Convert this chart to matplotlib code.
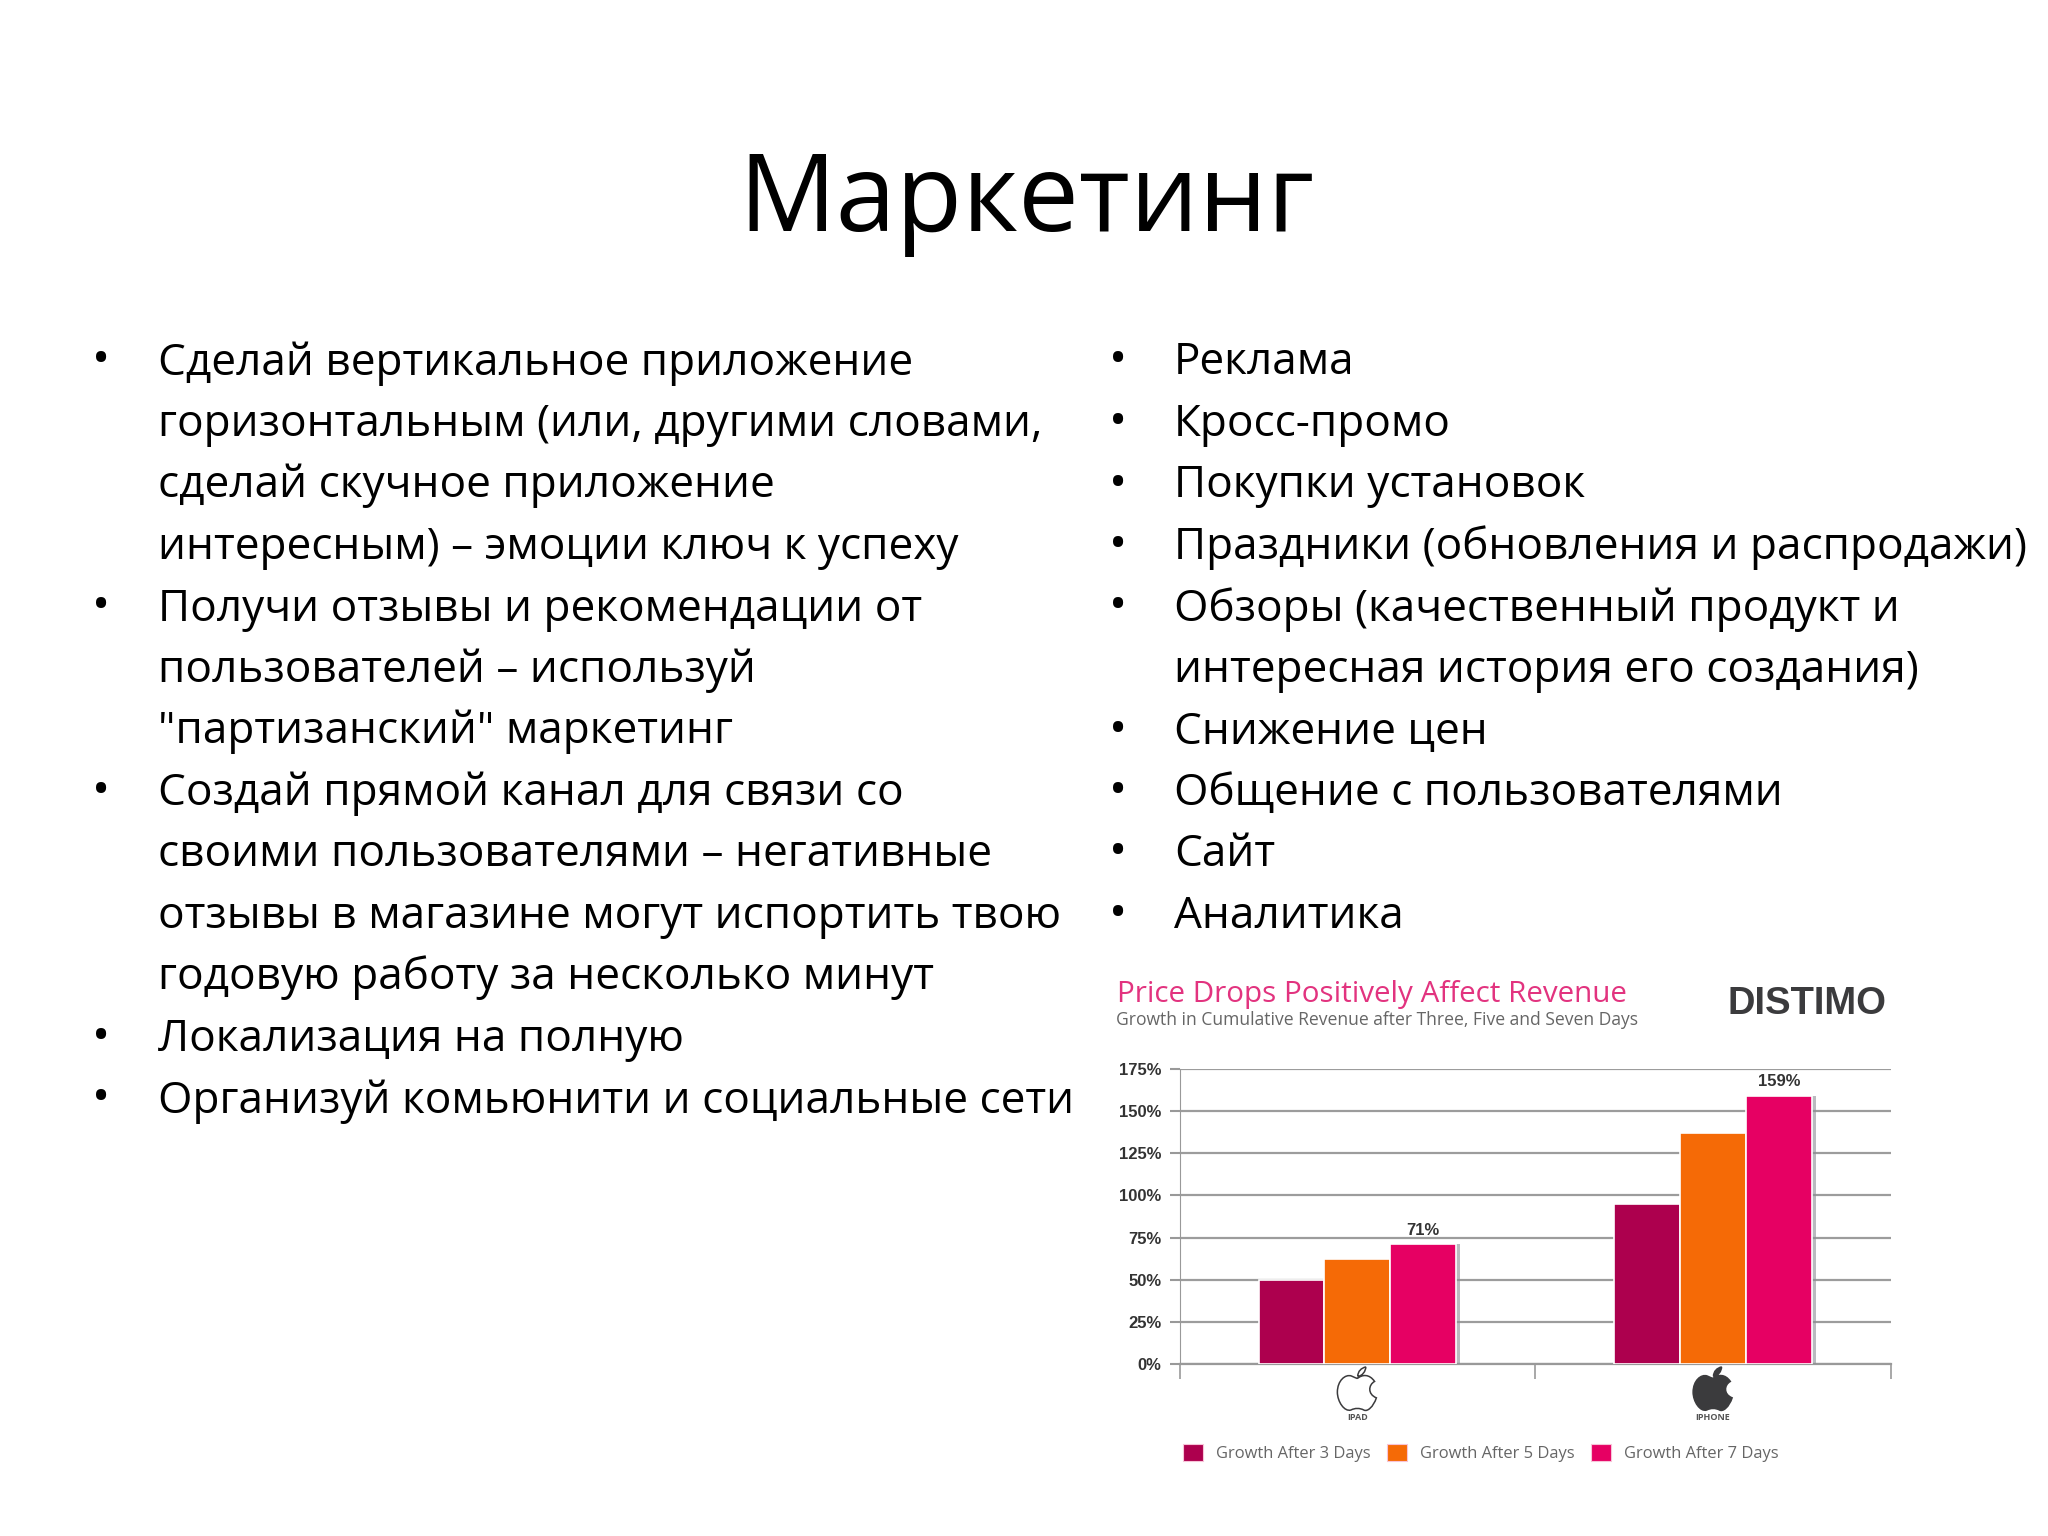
import matplotlib
matplotlib.use("Agg")
import matplotlib.pyplot as plt
import matplotlib.patheffects as pe
from matplotlib.patches import Patch, PathPatch
from matplotlib.path import Path
import numpy as np

plt.rcParams['font.family'] = ['Open Sans', 'DejaVu Sans']

# slide text
title = "Маркетинг"
left_items = [
    ["Сделай вертикальное приложение",
     "горизонтальным (или, другими словами,",
     "сделай скучное приложение",
     "интересным) – эмоции ключ к успеху"],
    ["Получи отзывы и рекомендации от",
     "пользователей – используй",
     "\"партизанский\" маркетинг"],
    ["Создай прямой канал для связи со",
     "своими пользователями – негативные",
     "отзывы в магазине могут испортить твою",
     "годовую работу за несколько минут"],
    ["Локализация на полную"],
    ["Организуй комьюнити и социальные сети"],
]
right_items = [
    ["Реклама"],
    ["Кросс-промо"],
    ["Покупки установок"],
    ["Праздники (обновления и распродажи)"],
    ["Обзоры (качественный продукт и",
     "интересная история его создания)"],
    ["Снижение цен"],
    ["Общение с пользователями"],
    ["Сайт"],
    ["Аналитика"],
]

# chart data
categories = ["IPAD", "IPHONE"]
growth_3 = [50, 95]
growth_5 = [62.5, 137]
growth_7 = [71, 159]
series_names = ["Growth After 3 Days", "Growth After 5 Days", "Growth After 7 Days"]
series_colors = ["#ad004e", "#f56a06", "#e60063"]
y_ticks = [0, 25, 50, 75, 100, 125, 150, 175]

W, H = 2048, 1536
fig = plt.figure(figsize=(W / 100, H / 100), dpi=100, facecolor="white")

# overlay in pixel coordinates for the slide text
page = fig.add_axes([0, 0, 1, 1])
page.set_xlim(0, W)
page.set_ylim(H, 0)
page.axis("off")

page.text(1026, 231, title, fontsize=78, ha="center", va="baseline", color="black")


def draw_list(items, x_bullet, x_text, y_start, step, size):
    row = 0
    for item in items:
        page.text(x_bullet, y_start + row * step, "•", fontsize=size + 3, ha="left",
                  va="baseline", color="black")
        for line in item:
            page.text(x_text, y_start + row * step, line, fontsize=size, ha="left",
                      va="baseline", color="black")
            row += 1


draw_list(left_items, 92, 158, 374.5, 61.5, 31.8)
draw_list(right_items, 1109, 1174, 374.5, 61.5, 31.8)

# picture header
page.text(1117, 1002, "Price Drops Positively Affect Revenue", fontsize=21.3,
          color="#e2337f", ha="left", va="baseline")
page.text(1116, 1025, "Growth in Cumulative Revenue after Three, Five and Seven Days",
          fontsize=12.65, color="#666666", ha="left", va="baseline")
page.text(1727, 1014, "DISTIMO", fontsize=27.5, fontweight="bold", color="#3b3b3d",
          ha="left", va="baseline", family=["Liberation Sans Narrow", "Liberation Sans"])

# bar chart
ax = fig.add_axes([1179.5 / W, 1 - 1364 / H, (1891 - 1179.5) / W, (1364 - 1069) / H])
ax.set_xlim(0, 2)
ax.set_ylim(0, 175)
x = np.arange(len(categories)) + 0.5
bar_w = 0.185
shadow = [pe.SimplePatchShadow(offset=(3, 0), shadow_rgbFace="#8d8d95", alpha=0.6),
          pe.Normal()]
for i, vals in enumerate([growth_3, growth_5, growth_7]):
    ax.bar(x + (i - 1) * bar_w, vals, bar_w, color=series_colors[i], edgecolor="white",
           linewidth=1.2, zorder=3, path_effects=shadow)

ax.set_yticks(y_ticks)
ax.set_yticklabels(["%d%%" % t for t in y_ticks], fontsize=12, fontweight="bold",
                   color="#333333", family=["Liberation Sans Narrow", "Liberation Sans"])
ax.set_xticks([0, 1, 2])
ax.set_xticklabels([])
ax.tick_params(axis="y", length=7, width=1.5, color="#999999", pad=6)
ax.tick_params(axis="x", length=11, width=1.2, color="#999999")
ax.grid(axis="y", color="#9c9c9c", linewidth=1.6, zorder=0)
ax.set_axisbelow(True)
for side in ["top", "right"]:
    ax.spines[side].set_visible(False)
ax.spines["left"].set_color("#999999")
ax.spines["bottom"].set_color("#999999")
ax.spines["bottom"].set_linewidth(1.6)

for xi, v in zip(x, growth_7):
    ax.text(xi + bar_w, v + 4, "%d%%" % v, ha="center", va="bottom", fontsize=12,
            fontweight="bold", color="#333333",
            family=["Liberation Sans Narrow", "Liberation Sans"])

# apple logos under the axis
apple_body = [(0, .5), (.25, .7), (.6, .72), (.86, .36), (.55, .2), (.5, -.25), (.95, -.42),
              (.8, -.85), (.5, -1.1), (.32, -1.0), (.12, -.9), (-.12, -.9), (-.32, -1.0),
              (-.65, -1.1), (-1, -.6), (-1, -.15), (-1, .4), (-.6, .72), (-.3, .62),
              (-.15, .56), (-.07, .52), (0, .5)]
apple_leaf = [(.02, .6), (.02, .85), (.2, 1.0), (.42, 1.05), (.42, .85), (.25, .62), (.02, .6)]
body_codes = [Path.MOVETO] + [Path.CURVE4] * (len(apple_body) - 1)
leaf_codes = [Path.MOVETO] + [Path.CURVE4] * (len(apple_leaf) - 1)
logo = Path(apple_body + apple_leaf, body_codes + leaf_codes)
logo_fill = ["white", "#3b3b3d"]
for k, name in enumerate(categories):
    cx = 1179.5 + (1891 - 1179.5) * x[k] / 2
    verts = logo.vertices * [20, -21] + [cx, 1389]
    page.add_patch(PathPatch(Path(verts, logo.codes), facecolor=logo_fill[k],
                             edgecolor="#3b3b3d", linewidth=1.1))
    page.text(cx, 1417, name, fontsize=6.5, fontweight="bold", color="#555555",
              ha="center", va="center")

handles = [Patch(facecolor=c, edgecolor="#f7c4d8", linewidth=0.8) for c in series_colors]
page.legend(handles, series_names, loc="center left", bbox_to_anchor=(1183 / W, 1 - 1453 / H),
            bbox_transform=fig.transFigure, ncol=3, frameon=False, fontsize=11.9,
            labelcolor="#666666", handlelength=1.2, handleheight=1.2, handletextpad=0.8,
            columnspacing=1.0, borderpad=0, borderaxespad=0)

fig.savefig("out.png", dpi=100)
